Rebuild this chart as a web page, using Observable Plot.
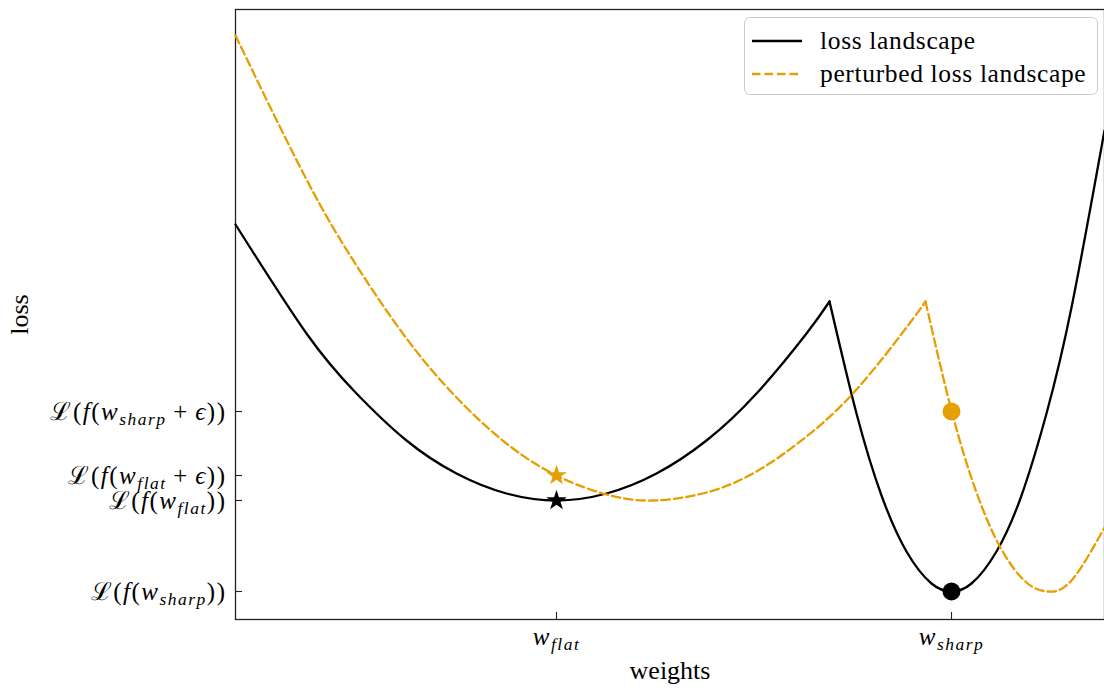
<!DOCTYPE html>
<html><head><meta charset="utf-8">
<script src="https://cdn.jsdelivr.net/npm/d3@7"></script>
<script src="https://cdn.jsdelivr.net/npm/@observablehq/plot@0.6"></script>
<style>
body{margin:0;background:#fff;}
#wrap{position:relative;width:1104px;height:688px;overflow:hidden;}
#legend{position:absolute;left:744px;top:17px;width:352px;height:76px;border:1.8px solid #cccccc;border-radius:6px;background:rgba(255,255,255,0.85);font-family:"Liberation Serif",serif;font-size:25.5px;letter-spacing:0.65px;color:#000;}
#legend .row{position:absolute;left:0;height:30px;display:flex;align-items:center;white-space:nowrap;}
#legend svg{display:block;}
</style></head><body><div id="wrap"></div>
<script>
// ---- data ----
const flatW      = [-3.21, -2.5, -2, -1.5, -1, -0.5, 0, 0.5, 1, 1.5, 2, 2.5, 2.73];
const flatLoss   = [3.95, 2.86, 2.26, 1.79, 1.46, 1.26, 1.19, 1.26, 1.46, 1.79, 2.26, 2.86, 3.18];
const sharpW     = [2.73, 3.0, 3.25, 3.5, 3.75, 3.95, 4.15, 4.4, 4.65, 4.9, 5.15, 5.48];
const sharpLoss  = [3.18, 2.06, 1.24, 0.68, 0.36, 0.28, 0.36, 0.68, 1.24, 2.06, 3.12, 4.89];
const pertFlatW     = [-3.21, -2.5, -2, -1.5, -1, -0.5, 0, 0.5, 0.96, 1.5, 2, 2.5, 3, 3.5, 3.69];
const pertFlatLoss  = [5.84, 4.40, 3.54, 2.81, 2.22, 1.76, 1.44, 1.25, 1.19, 1.27, 1.48, 1.83, 2.30, 2.92, 3.18];
const pertSharpW    = [3.69, 3.95, 4.2, 4.45, 4.7, 4.91, 5.15, 5.48];
const pertSharpLoss = [3.18, 2.09, 1.27, 0.70, 0.37, 0.28, 0.39, 0.92];

const markerW      = [0, 0, 3.95, 3.95];
const markerLoss   = [1.19, 1.44, 0.28, 2.08];
const markerSeries = ["loss", "perturbed", "loss", "perturbed"];
const markerSymbol = ["star", "star", "circle", "circle"];

const xTicks = [0, 3.95];
const xTickLabels = ["w_{flat}", "w_{sharp}"];
const yTicks = [0.28, 1.19, 1.44, 2.08];
const yTickLabels = ["ℒ(f(w_{sharp}))", "ℒ(f(w_{flat}))", "ℒ(f(w_{flat} + ϵ))", "ℒ(f(w_{sharp} + ϵ))"];

const seriesNames = ["loss landscape", "perturbed loss landscape"];
const colors = {loss: "#000000", perturbed: "#E69F00"};

// ---- build tables ----
function seg(ws, ls, series, segName) { return ws.map((w, i) => ({w, loss: ls[i], series, seg: segName})); }
const rows = [
  ...seg(flatW, flatLoss, "loss", "a"), ...seg(sharpW, sharpLoss, "loss", "b"),
  ...seg(pertFlatW, pertFlatLoss, "perturbed", "c"), ...seg(pertSharpW, pertSharpLoss, "perturbed", "d")
];
const markers = markerW.map((w, i) => ({w, loss: markerLoss[i], series: markerSeries[i], symbol: markerSymbol[i]}));
const xLab = new Map(xTicks.map((t, i) => [t, xTickLabels[i]]));
const yLab = new Map(yTicks.map((t, i) => [t, yTickLabels[i]]));

const W = 1104, H = 688, mL = 235, mR = 0, mT = 9, mB = 69;
const pw = W - mL - mR, ph = H - mT - mB;

const dotMarks = markers.map(m => Plot.dot([m], {
  x: "w", y: "loss", symbol: m.symbol, fill: colors[m.series], stroke: "none",
  r: m.symbol === "star" ? 6.5 : 9
}));

const chart = Plot.plot({
  width: W, height: H,
  marginLeft: mL, marginRight: mR, marginTop: mT, marginBottom: mB,
  style: {fontFamily: "'Liberation Serif', serif", fontSize: "26px", color: "#000", background: "#fff", overflow: "visible"},
  x: {domain: [-3.21, 5.48]},
  y: {domain: [0, 6.10]},
  marks: [
    Plot.frame({stroke: "#222", strokeWidth: 1.3}),
    Plot.tickY(yTicks, {y: d => d, stroke: "#222", strokeWidth: 1.1, insetRight: pw - 7}),
    Plot.tickX(xTicks, {x: d => d, stroke: "#222", strokeWidth: 1.1, insetTop: ph - 7}),
    Plot.axisY(yTicks, {tickSize: 0, tickPadding: 9, tickFormat: d => yLab.get(d),
      label: "loss", labelAnchor: "center", labelOffset: 226, labelArrow: "none"}),
    Plot.axisX(xTicks, {tickSize: 0, tickPadding: 8, tickFormat: d => xLab.get(d),
      label: "weights", labelAnchor: "center", labelOffset: 59, labelArrow: "none"}),
    Plot.line(rows.filter(d => d.series === "loss"), {x: "w", y: "loss", z: "seg", stroke: colors.loss, strokeWidth: 2.3, curve: "natural"}),
    Plot.line(rows.filter(d => d.series === "perturbed"), {x: "w", y: "loss", z: "seg", stroke: colors.perturbed, strokeWidth: 2.3, strokeDasharray: "8.5,4", curve: "natural"}),
    ...dotMarks
  ]
});

// ---- math-like rich text for tick labels ----
function mathMarkup(s, fs) {
  let out = "", i = 0, pending = 0;
  const sh = fs * 0.2;
  const emit = (txt, italic, size) => {
    let attrs = "";
    if (italic) attrs += ' font-style="italic"';
    if (size) attrs += ` font-size="${size}px"`;
    if (pending) { attrs += ` dy="${pending}"`; pending = 0; }
    out += `<tspan${attrs}>${txt}</tspan>`;
  };
  while (i < s.length) {
    if (s[i] === "_" && s[i + 1] === "{") {
      const j = s.indexOf("}", i);
      const sub = s.slice(i + 2, j);
      pending += sh;
      emit(sub, true, fs * 0.7);
      pending = -sh;
      i = j + 1; continue;
    }
    const c = s[i];
    if (/[a-zA-Zϵ]/.test(c)) emit(c, true, 0);
    else if (c === " ") emit("\u2009", false, 0);
    else emit(c, false, 0);
    i++;
  }
  return out;
}
chart.querySelectorAll('[aria-label="y-axis tick label"] text').forEach(t => { t.innerHTML = mathMarkup(t.textContent, 25); t.setAttribute("font-size", "25"); t.setAttribute("letter-spacing", "1.5"); });
chart.querySelectorAll('[aria-label="x-axis tick label"] text').forEach(t => { t.innerHTML = mathMarkup(t.textContent, 25); t.setAttribute("font-size", "25"); t.setAttribute("letter-spacing", "1.5"); });

const wrap = document.getElementById("wrap");
wrap.appendChild(chart);

// ---- legend ----
const legend = document.createElement("div");
legend.id = "legend";
legend.innerHTML = `
 <div class="row" style="top:8px"><svg width="75" height="30"><line x1="7" x2="57" y1="15" y2="15" stroke="${colors.loss}" stroke-width="2.3"/></svg><span>${seriesNames[0]}</span></div>
 <div class="row" style="top:41px"><svg width="75" height="30"><line x1="7" x2="57" y1="15" y2="15" stroke="${colors.perturbed}" stroke-width="2.3" stroke-dasharray="8.5,4"/></svg><span>${seriesNames[1]}</span></div>`;
wrap.appendChild(legend);
</script>
</body></html>
